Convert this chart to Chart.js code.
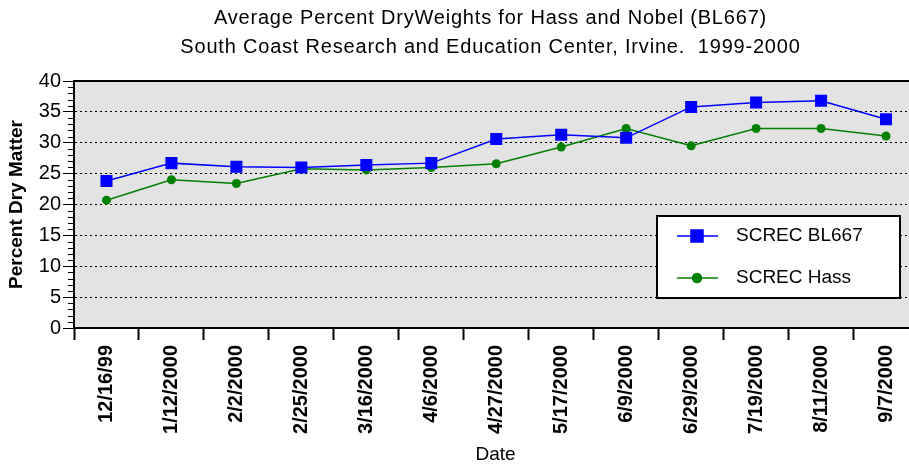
<!DOCTYPE html>
<html>
<head>
<meta charset="utf-8">
<script src="https://cdn.jsdelivr.net/npm/chart.js@4"></script>
<style>
  html, body { margin: 0; padding: 0; background: #fff; overflow: hidden; }
  /* 原图右侧被裁掉：画布比窗口宽，多出的部分不可见 */
  #wrap { width: 927px; height: 468px; position: relative; }
</style>
</head>
<body>
<div id="wrap"><canvas id="chart-dry"></canvas></div>
<script>
// 数据
const dates = ['12/16/99', '1/12/2000', '2/2/2000', '2/25/2000', '3/16/2000', '4/6/2000', '4/27/2000',
  '5/17/2000', '6/9/2000', '6/29/2000', '7/19/2000', '8/11/2000', '9/7/2000'];
const bl667 = [23.8, 26.7, 26.1, 26.0, 26.4, 26.7, 30.6, 31.3, 30.8, 35.8, 36.5, 36.8, 33.8];
const hass = [20.7, 24.0, 23.4, 25.8, 25.6, 26.0, 26.6, 29.3, 32.3, 29.5, 32.3, 32.3, 31.1];
const titleLines = ['Average Percent DryWeights for Hass and Nobel (BL667)',
  'South Coast Research and Education Center, Irvine.  1999-2000'];

const FONT = "'Liberation Sans', Arial, sans-serif";
const VISIBLE_W = 909;

// 灰色背景 + 黑框 + 小刻度
const plotFrame = {
  id: 'plotFrame',
  beforeDraw(chart) {
    const { ctx, chartArea: a } = chart;
    ctx.save();
    ctx.fillStyle = '#e3e3e3';
    ctx.fillRect(a.left, a.top, a.right - a.left, a.bottom - a.top);
    ctx.restore();
  },
  afterDatasetsDraw(chart) {
    const { ctx, chartArea: a } = chart;
    const y = chart.scales.y;
    ctx.save();
    ctx.strokeStyle = '#000';
    ctx.lineWidth = 2;
    ctx.strokeRect(a.left, a.top, a.right - a.left, a.bottom - a.top);
    ctx.lineWidth = 1;
    ctx.beginPath();
    for (let v = y.min; v <= y.max; v++) {
      if (v % 5 === 0) continue;
      const py = Math.round(y.getPixelForValue(v)) + 0.5;
      ctx.moveTo(a.left - 6, py);
      ctx.lineTo(a.left, py);
    }
    ctx.stroke();
    ctx.restore();
  },
};

// 标题居中于可见绘图区
const centerTitle = {
  id: 'centerTitle',
  afterDraw(chart) {
    const { ctx, chartArea: a } = chart;
    const cx = (a.left + VISIBLE_W) / 2 - 1;
    ctx.save();
    ctx.fillStyle = '#000';
    ctx.font = `20px ${FONT}`;
    ctx.letterSpacing = '0.8px';
    ctx.textAlign = 'center';
    ctx.textBaseline = 'middle';
    ctx.fillText(titleLines[0], cx, a.top - 63);
    ctx.fillText(titleLines[1], cx, a.top - 34);
    ctx.restore();
  },
};

// x 轴标题
const xTitle = {
  id: 'xTitle',
  afterDraw(chart) {
    const { ctx, chartArea: a } = chart;
    ctx.save();
    ctx.fillStyle = '#000';
    ctx.font = `19px ${FONT}`;
    ctx.textAlign = 'center';
    ctx.textBaseline = 'middle';
    ctx.fillText('Date', (a.left + VISIBLE_W) / 2 + 4, chart.height - 13);
    ctx.restore();
  },
};

// 图例（放在绘图区内右下）
const boxLegend = {
  id: 'boxLegend',
  afterDraw(chart) {
    const { ctx, chartArea: a } = chart;
    const w = 243, h = 82;
    const x0 = VISIBLE_W - 9 - w, y0 = a.top + 135;
    ctx.save();
    ctx.fillStyle = '#fff';
    ctx.fillRect(x0, y0, w, h);
    ctx.strokeStyle = '#000';
    ctx.lineWidth = 2;
    ctx.strokeRect(x0, y0, w, h);
    ctx.font = `19px ${FONT}`;
    ctx.textBaseline = 'middle';
    chart.data.datasets.forEach((ds, i) => {
      const ly = y0 + 20 + i * 42;
      ctx.strokeStyle = ds.borderColor;
      ctx.lineWidth = 1.5;
      ctx.beginPath();
      ctx.moveTo(x0 + 20, ly);
      ctx.lineTo(x0 + 61, ly);
      ctx.stroke();
      Chart.helpers.drawPoint(ctx, {
        pointStyle: ds.pointStyle, radius: ds.pointRadius, borderWidth: 1, rotation: 0,
      }, x0 + 40, ly);
      ctx.fillStyle = ds.backgroundColor;
      ctx.fill();
      ctx.fillStyle = '#000';
      ctx.fillText(ds.label, x0 + 79, ly);
    });
    ctx.restore();
  },
};

new Chart(document.getElementById('chart-dry'), {
  type: 'line',
  data: {
    labels: dates,
    datasets: [
      {
        label: 'SCREC BL667',
        data: bl667,
        borderColor: '#0000ff',
        backgroundColor: '#0000ff',
        borderWidth: 1.5,
        pointStyle: 'rect',
        pointRadius: 8.5,
        pointBorderWidth: 0,
        tension: 0,
      },
      {
        label: 'SCREC Hass',
        data: hass,
        borderColor: '#008000',
        backgroundColor: '#008000',
        borderWidth: 1.5,
        pointStyle: 'circle',
        pointRadius: 4.5,
        pointBorderWidth: 0,
        tension: 0,
      },
    ],
  },
  options: {
    responsive: true,
    maintainAspectRatio: false,
    animation: false,
    layout: { padding: { top: 81, right: 0, left: 0, bottom: 0 } },
    plugins: {
      legend: { display: false },
      title: { display: false },
      tooltip: { enabled: false },
    },
    scales: {
      x: {
        offset: true,
        afterFit: s => { s.height = 140; s.paddingLeft = 0; s.paddingRight = 0; },
        grid: { drawOnChartArea: false, drawTicks: true, tickLength: 12, offset: true, tickColor: '#000', tickWidth: 2 },
        border: { display: true, color: '#000', width: 2 },
        ticks: {
          autoSkip: false, minRotation: 90, maxRotation: 90, padding: 5,
          color: '#000', font: { family: FONT, size: 20, weight: 'bold' },
        },
        title: { display: false },
      },
      y: {
        min: 0,
        max: 40,
        afterFit: s => { s.width = 74; },
        grid: {
          color: '#000', lineWidth: 1,
          drawTicks: true, tickLength: 11, tickColor: '#000', tickWidth: 1, tickBorderDash: [],
        },
        border: { display: true, color: '#000', width: 2, dash: [2, 3] },
        ticks: { stepSize: 5, padding: 2, color: '#000', font: { family: FONT, size: 20 } },
        title: {
          display: true, text: 'Percent Dry Matter', color: '#000',
          font: { family: FONT, size: 19, weight: 'bold' }, padding: { top: 5, bottom: 0 },
        },
      },
    },
  },
  plugins: [plotFrame, centerTitle, xTitle, boxLegend],
});
</script>
</body>
</html>
